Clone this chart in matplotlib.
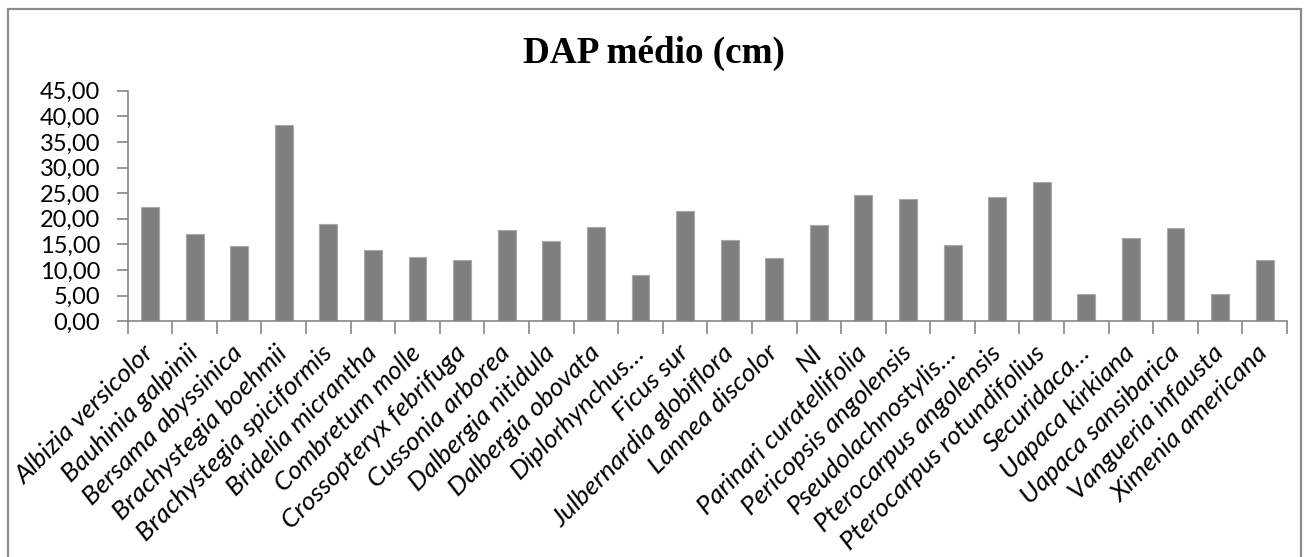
import matplotlib
matplotlib.use("Agg")
import matplotlib.pyplot as plt
from matplotlib.patches import Rectangle
from matplotlib.ticker import FuncFormatter, FixedLocator

species = [
    "Albizia versicolor", "Bauhinia galpinii", "Bersama abyssinica",
    "Brachystegia boehmii", "Brachystegia spiciformis", "Bridelia micrantha",
    "Combretum molle", "Crossopteryx febrifuga", "Cussonia arborea",
    "Dalbergia nitidula", "Dalbergia obovata", "Diplorhynchus…",
    "Ficus sur", "Julbernardia globiflora", "Lannea discolor", "NI",
    "Parinari curatellifolia", "Pericopsis angolensis", "Pseudolachnostylis…",
    "Pterocarpus angolensis", "Pterocarpus rotundifolius", "Securidaca…",
    "Uapaca kirkiana", "Uapaca sansibarica", "Vangueria infausta",
    "Ximenia americana",
]
dap_medio = [
    22.25, 16.98, 14.76, 38.25, 18.93, 13.90, 12.55, 11.90, 17.80,
    15.60, 18.40, 8.98, 21.47, 15.93, 12.30, 18.73, 24.65, 23.87,
    14.95, 24.30, 27.25, 5.33, 16.20, 18.20, 5.27, 11.90,
]
y_ticks = [0, 5, 10, 15, 20, 25, 30, 35, 40, 45]

W, H, DPI = 1308, 557, 100
fig = plt.figure(figsize=(W / DPI, H / DPI), dpi=DPI)
fig.patch.set_facecolor("white")

ax = fig.add_axes([127.7 / W, 1 - 321.3 / H, (1287 - 127.7) / W, (321.3 - 90.7) / H])

n = len(species)
x = list(range(n))
ax.bar(x, dap_medio, width=0.4, color="#7f7f7f", edgecolor="#a9a9a9", linewidth=0.8, zorder=2)

ax.set_xlim(-0.5, n - 0.5)
ax.set_ylim(0, 45)

axis_grey = "#868686"
for side in ("top", "right"):
    ax.spines[side].set_visible(False)
for side in ("left", "bottom"):
    ax.spines[side].set_color(axis_grey)
    ax.spines[side].set_linewidth(1.2)

# y axis
ax.yaxis.set_major_locator(FixedLocator(y_ticks))
ax.yaxis.set_major_formatter(FuncFormatter(lambda v, p: f"{v:.2f}".replace(".", ",")))
ax.tick_params(axis="y", direction="out", length=7.7, width=1.2, color=axis_grey,
               pad=12, labelsize=17, labelcolor="black")
for lab in ax.get_yticklabels():
    lab.set_fontfamily("Lato")

# x axis: labels at category centres, tick marks between categories
ax.set_xticks(x)
ax.set_xticklabels(species, rotation=45, ha="right", va="center",
                   rotation_mode="anchor", fontfamily="Lato", fontstyle="italic",
                   fontsize=19)
ax.tick_params(axis="x", which="major", length=0, pad=20)
ax.set_xticks([i - 0.5 for i in range(n + 1)], minor=True)
ax.tick_params(axis="x", which="minor", direction="out", length=9, width=1.2, color=axis_grey)

fig.text(654 / W, 1 - 63.3 / H, "DAP médio (cm)", ha="center", va="baseline",
         fontsize=26.7, fontweight="bold", fontfamily="Liberation Serif")

# chart area frame
fig.patches.append(Rectangle((8.3 / W, -0.05), (1301 - 8.3) / W, 1.05 - 8.5 / H,
                             transform=fig.transFigure, fill=False,
                             edgecolor="#8c8c8c", linewidth=1.6))

fig.savefig("out.png", dpi=DPI, facecolor="white")
